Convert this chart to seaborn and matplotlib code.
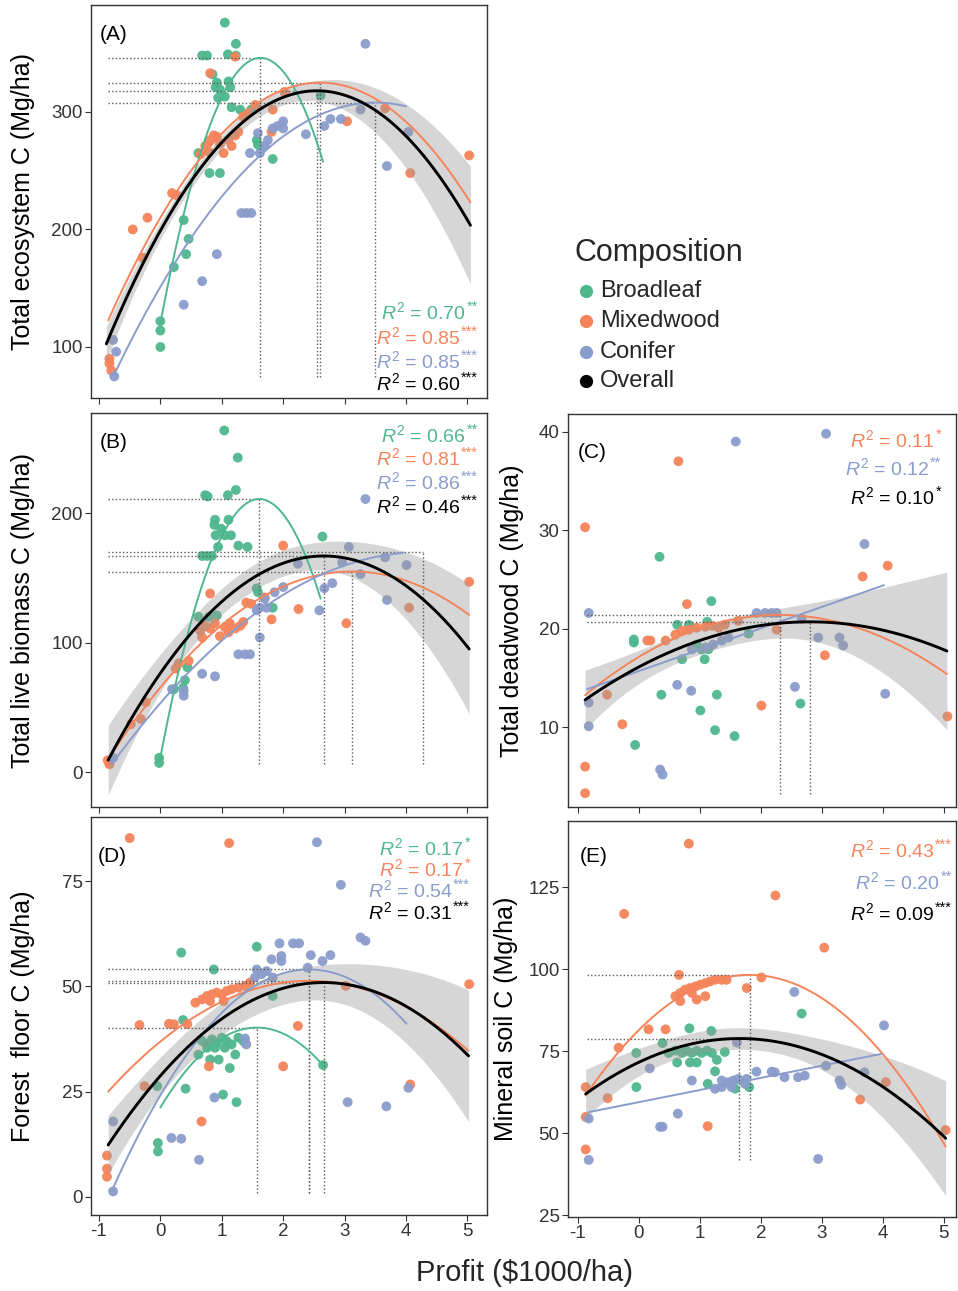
import numpy as np
import pandas as pd
import matplotlib
matplotlib.use("Agg")
import matplotlib.pyplot as plt
import seaborn as sns
from matplotlib.lines import Line2D

# ---------------- data ----------------
groups = ["Broadleaf", "Mixedwood", "Conifer"]
group_colors = ["#4fb78e", "#f5845a", "#8a9ccb"]
overall_color = "#000000"

# Panel A: total ecosystem C
A_broad_x = [1.05,1.23,0.76,0.68,1.10,1.23,0.85,0.92,0.90,0.97,1.11,1.14,1.05,0.94,1.16,1.30,1.48,1.57,1.59,1.83,0.80,0.97,0.62,0.38,0.46,0.42,0.22,0.00,0.00,0.00,2.61]
A_broad_y = [376,358,348,348,349,348,332,325,321,319,326,321,313,312,304,302,302,276,272,260,248,248,265,208,192,179,168,122,114,100,314]
A_mixed_x = [-0.45,-0.21,-0.29,-0.83,-0.83,-0.80,0.19,0.27,0.73,0.81,0.87,0.92,0.97,1.03,1.11,1.16,1.22,1.27,1.43,1.35,0.79,0.65,0.81,1.22,1.83,1.81,2.02,3.04,3.66,4.07,5.03,1.55]
A_mixed_y = [200,210,176,90,86,80,231,229,271,276,280,279,273,265,276,271,280,283,299,296,266,264,333,347,302,283,317,292,303,248,263,306]
A_conif_x = [3.34,3.69,4.04,2.37,2.67,2.77,2.94,3.26,1.91,2.00,2.00,1.83,1.59,1.75,1.70,1.46,1.62,1.32,1.40,1.48,0.92,0.68,0.38,-0.75,-0.72,-0.77]
A_conif_y = [358,254,283,281,288,294,294,302,288,292,286,286,282,276,271,265,265,214,214,214,179,156,136,75,96,106]

# Panel B: total live biomass C
B_broad_x = [1.04,1.26,0.73,0.77,1.10,1.23,0.89,0.88,1.11,0.99,0.90,1.05,1.15,0.94,1.27,1.42,0.68,0.76,0.84,1.57,1.59,2.64,1.83,0.62,0.79,0.92,0.44,0.40,0.37,0.22,-0.02,-0.02]
B_broad_y = [264,243,214,213,214,218,195,191,195,188,183,183,183,174,175,174,167,167,167,142,139,182,127,120,120,121,81,71,65,64,11,7]
B_mixed_x = [2.00,0.81,0.65,0.73,0.81,0.89,0.97,1.05,1.13,1.22,1.30,1.35,0.68,1.11,1.40,1.48,1.70,1.81,2.25,3.03,4.05,5.03,0.46,0.30,0.25,-0.24,-0.32,-0.48,-0.86,-0.83]
B_mixed_y = [175,138,109,113,111,115,105,112,115,111,113,116,104,108,131,130,135,118,126,115,127,147,86,84,80,54,41,37,9,6]
B_conif_x = [3.34,3.07,2.96,3.26,3.66,4.01,3.69,2.24,2.80,2.67,2.59,2.00,1.86,1.70,1.62,1.73,1.57,1.62,1.27,1.38,1.46,0.68,0.89,0.38,0.38,0.19,-0.77]
B_conif_y = [211,174,162,153,166,160,133,161,146,142,125,143,139,134,127,127,125,104,91,91,91,76,74,63,59,64,11]

# Panel C: total deadwood C
C_broad_x = [0.34,1.19,-0.08,-0.08,0.63,0.82,0.86,1.12,0.71,1.08,0.37,1.28,1.01,1.25,1.57,-0.06,2.65,1.80,0.95,1.03,1.14]
C_broad_y = [27.3,22.8,18.9,18.6,20.4,20.4,20.1,20.7,16.9,16.9,13.3,13.3,11.7,9.7,9.1,8.2,12.4,19.5,18.4,17.9,17.9]
C_mixed_x = [-0.88,0.65,0.79,-0.88,-0.88,-0.52,-0.27,0.14,0.19,0.44,0.60,0.71,0.82,0.95,1.09,1.20,1.31,1.41,1.63,2.01,2.26,3.05,3.67,4.08,5.06]
C_mixed_y = [30.3,37.0,22.5,6.0,3.3,13.3,10.3,18.8,18.8,18.8,19.4,19.8,19.9,20.1,20.2,20.3,20.1,20.4,20.8,12.2,19.9,17.3,25.3,26.4,11.1]
C_conif_x = [1.59,3.07,3.70,-0.82,-0.82,-0.82,0.63,0.86,0.35,0.39,2.56,4.04,2.94,3.29,3.35,1.93,2.07,2.18,2.26,0.87,1.09,1.22,1.36,1.47,2.67]
C_conif_y = [39.0,39.8,28.6,21.6,12.5,10.1,14.3,13.7,5.7,5.2,14.1,13.4,19.1,19.1,18.3,21.6,21.6,21.6,21.6,17.9,18.1,18.4,18.8,19.1,21.0]

# Panel D: forest floor C
D_broad_x = [0.34,1.57,0.87,0.37,0.68,0.76,0.84,0.92,1.00,1.08,1.16,1.27,1.35,0.76,0.89,1.05,0.62,1.22,0.81,0.95,1.13,0.41,1.02,1.24,-0.04,-0.04,-0.05,2.65,1.83]
D_broad_y = [58.0,59.4,54.0,42.0,37.0,36.2,37.4,36.6,37.8,37.0,36.2,37.8,37.0,35.4,35.4,35.4,33.8,33.8,32.6,32.6,30.6,25.7,24.3,22.5,12.8,10.8,26.3,31.3,47.7]
D_mixed_x = [-0.50,1.12,-0.34,0.14,0.22,0.44,0.57,0.68,0.76,0.84,0.92,1.00,1.08,1.16,1.27,1.38,1.46,1.03,0.81,2.24,2.00,0.79,-0.26,0.67,-0.87,-0.87,-0.87,3.02,5.03,4.07]
D_mixed_y = [85.2,84.0,40.8,41.1,41.0,41.0,46.1,46.9,47.7,48.1,48.5,48.1,48.9,49.3,49.7,50.1,50.9,46.5,46.5,40.6,31.0,31.0,26.3,17.9,9.8,6.7,4.8,50.1,50.5,26.7]
D_conif_x = [2.55,2.94,3.26,3.34,1.94,2.16,2.26,1.81,1.97,1.97,2.45,2.64,2.77,1.57,1.65,1.73,1.83,1.54,2.40,-0.77,-0.77,0.18,0.34,0.63,0.88,3.05,3.68,4.04,1.40,1.38]
D_conif_y = [84.2,74.1,61.6,60.8,60.2,60.2,60.2,56.4,57.2,56.0,57.4,56.0,57.4,54.0,52.9,53.6,52.1,52.1,54.4,17.9,1.3,14.0,13.8,8.8,23.6,22.5,21.5,25.9,36.2,37.6]

# Panel E: mineral soil C
E_broad_x = [0.83,1.19,-0.04,0.39,0.49,0.60,0.71,0.79,0.87,0.95,1.03,1.12,1.20,1.41,0.63,0.84,0.95,1.28,1.25,-0.04,1.13,1.58,1.81,2.67]
E_broad_y = [82.0,81.2,74.5,77.5,74.5,75.2,74.5,75.2,74.5,75.2,74.5,75.2,74.5,74.8,71.6,71.6,71.6,72.4,68.9,64.1,65.1,63.6,64.1,86.5]
E_mixed_x = [0.82,-0.24,2.24,3.04,0.66,0.60,0.68,0.76,0.84,0.93,1.01,1.09,1.17,1.25,1.36,1.44,0.95,1.09,0.87,0.68,1.77,2.01,0.16,0.44,-0.33,-0.51,-0.87,-0.87,-0.87,1.13,3.63,4.05,5.03]
E_mixed_y = [138.3,116.9,122.5,106.6,98.3,91.8,92.8,93.8,94.3,94.8,95.3,95.8,96.3,96.8,96.8,96.8,90.8,91.8,92.8,90.3,94.3,97.5,81.7,81.7,76.1,60.7,64.1,55.0,45.1,52.2,60.3,65.6,51.0]
E_conif_x = [2.55,4.02,0.18,0.87,0.64,0.35,0.39,-0.82,-0.82,2.94,3.07,3.29,3.32,3.70,1.25,1.36,1.47,1.55,1.63,1.77,1.93,2.18,2.23,2.39,2.61,2.72,1.36,1.52,1.74,1.61]
E_conif_y = [93.1,82.9,69.8,66.1,56.0,52.0,52.0,54.5,41.9,42.2,70.6,66.1,64.8,68.6,63.6,64.1,65.6,66.1,66.6,66.6,68.8,68.8,68.6,67.1,67.1,67.6,66.1,64.1,65.1,77.7]

# fitted curves: quadratic (x_from, x_to, x_peak, y_peak, curvature); linear (x_from, x_to, slope, intercept)
A_fit_broad = (0.0, 2.65, 1.63, 346, 85)
A_fit_mixed = (-0.85, 5.05, 2.60, 325, 17)
A_fit_conif = (-0.75, 4.00, 3.50, 308, 12.8)
A_fit_all = (-0.88, 5.05, 2.55, 318, 18.3)
A_band = (1.15, 6.0, 1.354)

B_fit_broad = (-0.02, 2.61, 1.61, 211, 77)
B_fit_mixed = (-0.85, 5.03, 3.12, 155, 9.2)
B_fit_conif = (-0.78, 3.95, 4.27, 170, 6.4)
B_fit_all = (-0.85, 5.03, 2.66, 167, 12.8)
B_band = (1.6, 10.0, 1.55)

C_fit_mixed = (-0.88, 5.05, 2.31, 21.4, 0.8)
C_line_conif = (-0.85, 4.02, 2.17, 15.7)
C_fit_all = (-0.88, 5.05, 2.80, 20.7, 0.585)
C_band = (1.3, 1.4, 1.58)

D_fit_broad = (0.0, 2.65, 1.57, 40.2, 7.7)
D_fit_mixed = (-0.85, 5.02, 2.42, 51.3, 2.46)
D_fit_conif = (-0.80, 4.01, 2.42, 54.0, 5.1)
D_fit_all = (-0.85, 5.02, 2.66, 50.9, 3.13)
D_band = (1.4, 3.8, 1.81)

E_fit_mixed = (-0.87, 5.03, 1.82, 98.3, 5.08)
E_line_conif = (-0.82, 3.97, 3.7, 59.5)
E_fit_all = (-0.87, 5.03, 1.65, 78.9, 2.66)
E_band = (1.4, 3.3, 1.589)

# R^2 annotations (value, stars, group index or -1 for overall)
A_r2 = [("0.70", "**", 0), ("0.85", "***", 1), ("0.85", "***", 2), ("0.60", "***", -1)]
B_r2 = [("0.66", "**", 0), ("0.81", "***", 1), ("0.86", "***", 2), ("0.46", "***", -1)]
C_r2 = [("0.11", "*", 1), ("0.12", "**", 2), ("0.10", "*", -1)]
D_r2 = [("0.17", "*", 0), ("0.17", "*", 1), ("0.54", "***", 2), ("0.31", "***", -1)]
E_r2 = [("0.43", "***", 1), ("0.20", "**", 2), ("0.09", "***", -1)]

ylabels = ["Total ecosystem C (Mg/ha)", "Total live biomass C (Mg/ha)",
           "Total deadwood C (Mg/ha)", "Forest  floor C (Mg/ha)", "Mineral soil C (Mg/ha)"]
tags = ["(A)", "(B)", "(C)", "(D)", "(E)"]
xticks = [-1, 0, 1, 2, 3, 4, 5]
legend_title = "Composition"
legend_labels = groups + ["Overall"]

# ---------------- style ----------------
sns.set_style("white")
plt.rcParams["font.family"] = ["Liberation Sans", "DejaVu Sans"]
plt.rcParams["mathtext.fontset"] = "custom"
plt.rcParams["mathtext.rm"] = "Liberation Sans"
plt.rcParams["mathtext.it"] = "Liberation Sans:italic"
plt.rcParams["mathtext.bf"] = "Liberation Sans:bold"

W, H = 958, 1291
fig = plt.figure(figsize=(W / 100, H / 100), dpi=100)
renderer = fig.canvas.get_renderer()
pal = dict(zip(groups, group_colors))


def fx(px):
    return px / W


def fy(py):
    return 1 - py / H


def px_axes(l, t, r, b):
    return fig.add_axes([l / W, 1 - b / H, (r - l) / W, (b - t) / H])


def quad_curve(fit, n=200):
    x0, x1, xv, yv, k = fit
    xs = np.linspace(x0, x1, n)
    return xs, yv - k * (xs - xv) ** 2


def lin_curve(fit, n=50):
    x0, x1, s, b = fit
    xs = np.linspace(x0, x1, n)
    return xs, b + s * xs


panels = [
    dict(rect=(91, 5, 487, 398), xlim=(-1.13, 5.32), ylim=(56.6, 391), yticks=[100, 200, 300],
         pts=[(A_broad_x, A_broad_y), (A_mixed_x, A_mixed_y), (A_conif_x, A_conif_y)],
         fits=[A_fit_broad, A_fit_mixed, A_fit_conif], lines=[None, None, None],
         allfit=A_fit_all, band=A_band, floor=74.5, r2=A_r2,
         r2_right=478, r2_rows=[312, 337, 361, 383], tag_pos=(100, 34), ylab_x=35,
         xlabels=False),
    dict(rect=(91, 413, 487, 807), xlim=(-1.13, 5.32), ylim=(-27, 277.5), yticks=[0, 100, 200],
         pts=[(B_broad_x, B_broad_y), (B_mixed_x, B_mixed_y), (B_conif_x, B_conif_y)],
         fits=[B_fit_broad, B_fit_mixed, B_fit_conif], lines=[None, None, None],
         allfit=B_fit_all, band=B_band, floor=6, r2=B_r2,
         r2_right=478, r2_rows=[435, 458, 482, 506], tag_pos=(100, 442), ylab_x=35,
         xlabels=False),
    dict(rect=(568, 414, 956, 807), xlim=(-1.16, 5.2), ylim=(1.9, 41.8), yticks=[10, 20, 30, 40],
         pts=[(C_broad_x, C_broad_y), (C_mixed_x, C_mixed_y), (C_conif_x, C_conif_y)],
         fits=[None, C_fit_mixed, None], lines=[None, None, C_line_conif],
         allfit=C_fit_all, band=C_band, floor=3.2, r2=C_r2,
         r2_right=941, r2_rows=[440, 468, 497], tag_pos=(578, 452), ylab_x=524,
         xlabels=False),
    dict(rect=(91, 817, 487, 1215), xlim=(-1.13, 5.32), ylim=(-4.3, 90.2), yticks=[0, 25, 50, 75],
         pts=[(D_broad_x, D_broad_y), (D_mixed_x, D_mixed_y), (D_conif_x, D_conif_y)],
         fits=[D_fit_broad, D_fit_mixed, D_fit_conif], lines=[None, None, None],
         allfit=D_fit_all, band=D_band, floor=1.0, r2=D_r2,
         r2_right=470, r2_rows=[848, 869, 890, 912], tag_pos=(98, 857), ylab_x=35,
         xlabels=True),
    dict(rect=(568, 821, 956, 1217), xlim=(-1.16, 5.2), ylim=(24.5, 145.2), yticks=[25, 50, 75, 100, 125],
         pts=[(E_broad_x, E_broad_y), (E_mixed_x, E_mixed_y), (E_conif_x, E_conif_y)],
         fits=[None, E_fit_mixed, None], lines=[None, None, E_line_conif],
         allfit=E_fit_all, band=E_band, floor=42, r2=E_r2,
         r2_right=952, r2_rows=[850, 882, 913], tag_pos=(580, 857), ylab_x=518,
         xlabels=True),
]

dot_style = dict(color="#5a5a5a", lw=1.0, linestyle=(0, (1, 1.6)), zorder=3.5)
h_start = -0.85

for i, p in enumerate(panels):
    ax = px_axes(*p["rect"])
    rows = []
    for g, (xs, ys) in zip(groups, p["pts"]):
        rows.append(pd.DataFrame({"profit": xs, "carbon": ys, "Composition": g}))
    df = pd.concat(rows, ignore_index=True)
    sns.scatterplot(data=df, x="profit", y="carbon", hue="Composition", hue_order=groups,
                    palette=pal, s=50, linewidth=0, alpha=0.95, legend=False, ax=ax, zorder=2)

    # overall fit with confidence band
    xs, ys = quad_curve(p["allfit"])
    c, h0, L = p["band"]
    half = h0 * np.sqrt(1 + ((xs - c) / L) ** 4)
    ax.fill_between(xs, ys - half, ys + half, color="#999999", alpha=0.4, lw=0, zorder=3)

    # dotted guides at maxima
    peaks = [f for f in p["fits"] if f is not None] + [p["allfit"]]
    for f in peaks:
        xv, yv = f[2], f[3]
        ax.plot([h_start, xv], [yv, yv], **dot_style)
        ax.plot([xv, xv], [p["floor"], yv], **dot_style)

    for g, col, f, ln in zip(groups, group_colors, p["fits"], p["lines"]):
        if f is not None:
            gx, gy = quad_curve(f)
        elif ln is not None:
            gx, gy = lin_curve(ln)
        else:
            continue
        sns.lineplot(x=gx, y=gy, color=col, lw=1.4, ax=ax, estimator=None, zorder=4)
    sns.lineplot(x=xs, y=ys, color=overall_color, lw=2.1, ax=ax, estimator=None, zorder=5)

    ax.set_xlim(*p["xlim"])
    ax.set_ylim(*p["ylim"])
    ax.set_xticks(xticks)
    ax.set_yticks(p["yticks"])
    if p["xlabels"]:
        ax.set_xticklabels([str(t) for t in xticks])
    else:
        ax.set_xticklabels([])
    ax.set_xlabel("")
    ax.set_ylabel(ylabels[i], fontsize=18, color="black")
    l, t, r, b = p["rect"]
    ax.yaxis.set_label_coords((p["ylab_x"] - l) / (r - l), 0.5)
    ax.tick_params(axis="both", direction="out", length=4, width=0.8, color="#333333",
                   labelsize=13.5, labelcolor="#333333", pad=2,
                   bottom=True, left=True)
    for sp in ax.spines.values():
        sp.set_visible(True)
        sp.set_color("#333333")
        sp.set_linewidth(1.0)

    # panel tag
    tx, ty = p["tag_pos"]
    fig.text(fx(tx), fy(ty), tags[i], fontsize=15, ha="left", va="center", color="black")

    # R^2 labels: main text + small superscript stars
    for (val, stars, gi), yrow in zip(p["r2"], p["r2_rows"]):
        col = overall_color if gi < 0 else group_colors[gi]
        st = fig.text(fx(p["r2_right"]), fy(yrow - 5), stars, fontsize=10.5, ha="right",
                      va="center", color=col)
        wst = st.get_window_extent(renderer).width
        fig.text(fx(p["r2_right"] - wst - 0.5), fy(yrow), r"$\mathit{R}^{2}$ = " + val,
                 fontsize=14, ha="right", va="center", color=col)

fig.text(fx(525), fy(1273), "Profit ($1000/ha)", fontsize=21, ha="center", va="center")

# legend (manual layout)
fig.text(fx(574), fy(253), legend_title, fontsize=22, ha="left", va="center")
legend_colors = group_colors + [overall_color]
legend_rows = [291, 321, 352, 381]
for lab, col, yy in zip(legend_labels, legend_colors, legend_rows):
    fig.add_artist(Line2D([fx(586)], [fy(yy)], transform=fig.transFigure, marker="o", ls="",
                          markerfacecolor=col, markeredgecolor="none", markersize=9.5))
    fig.text(fx(600), fy(yy), lab, fontsize=17, ha="left", va="center")

fig.savefig("out.png", dpi=100)
